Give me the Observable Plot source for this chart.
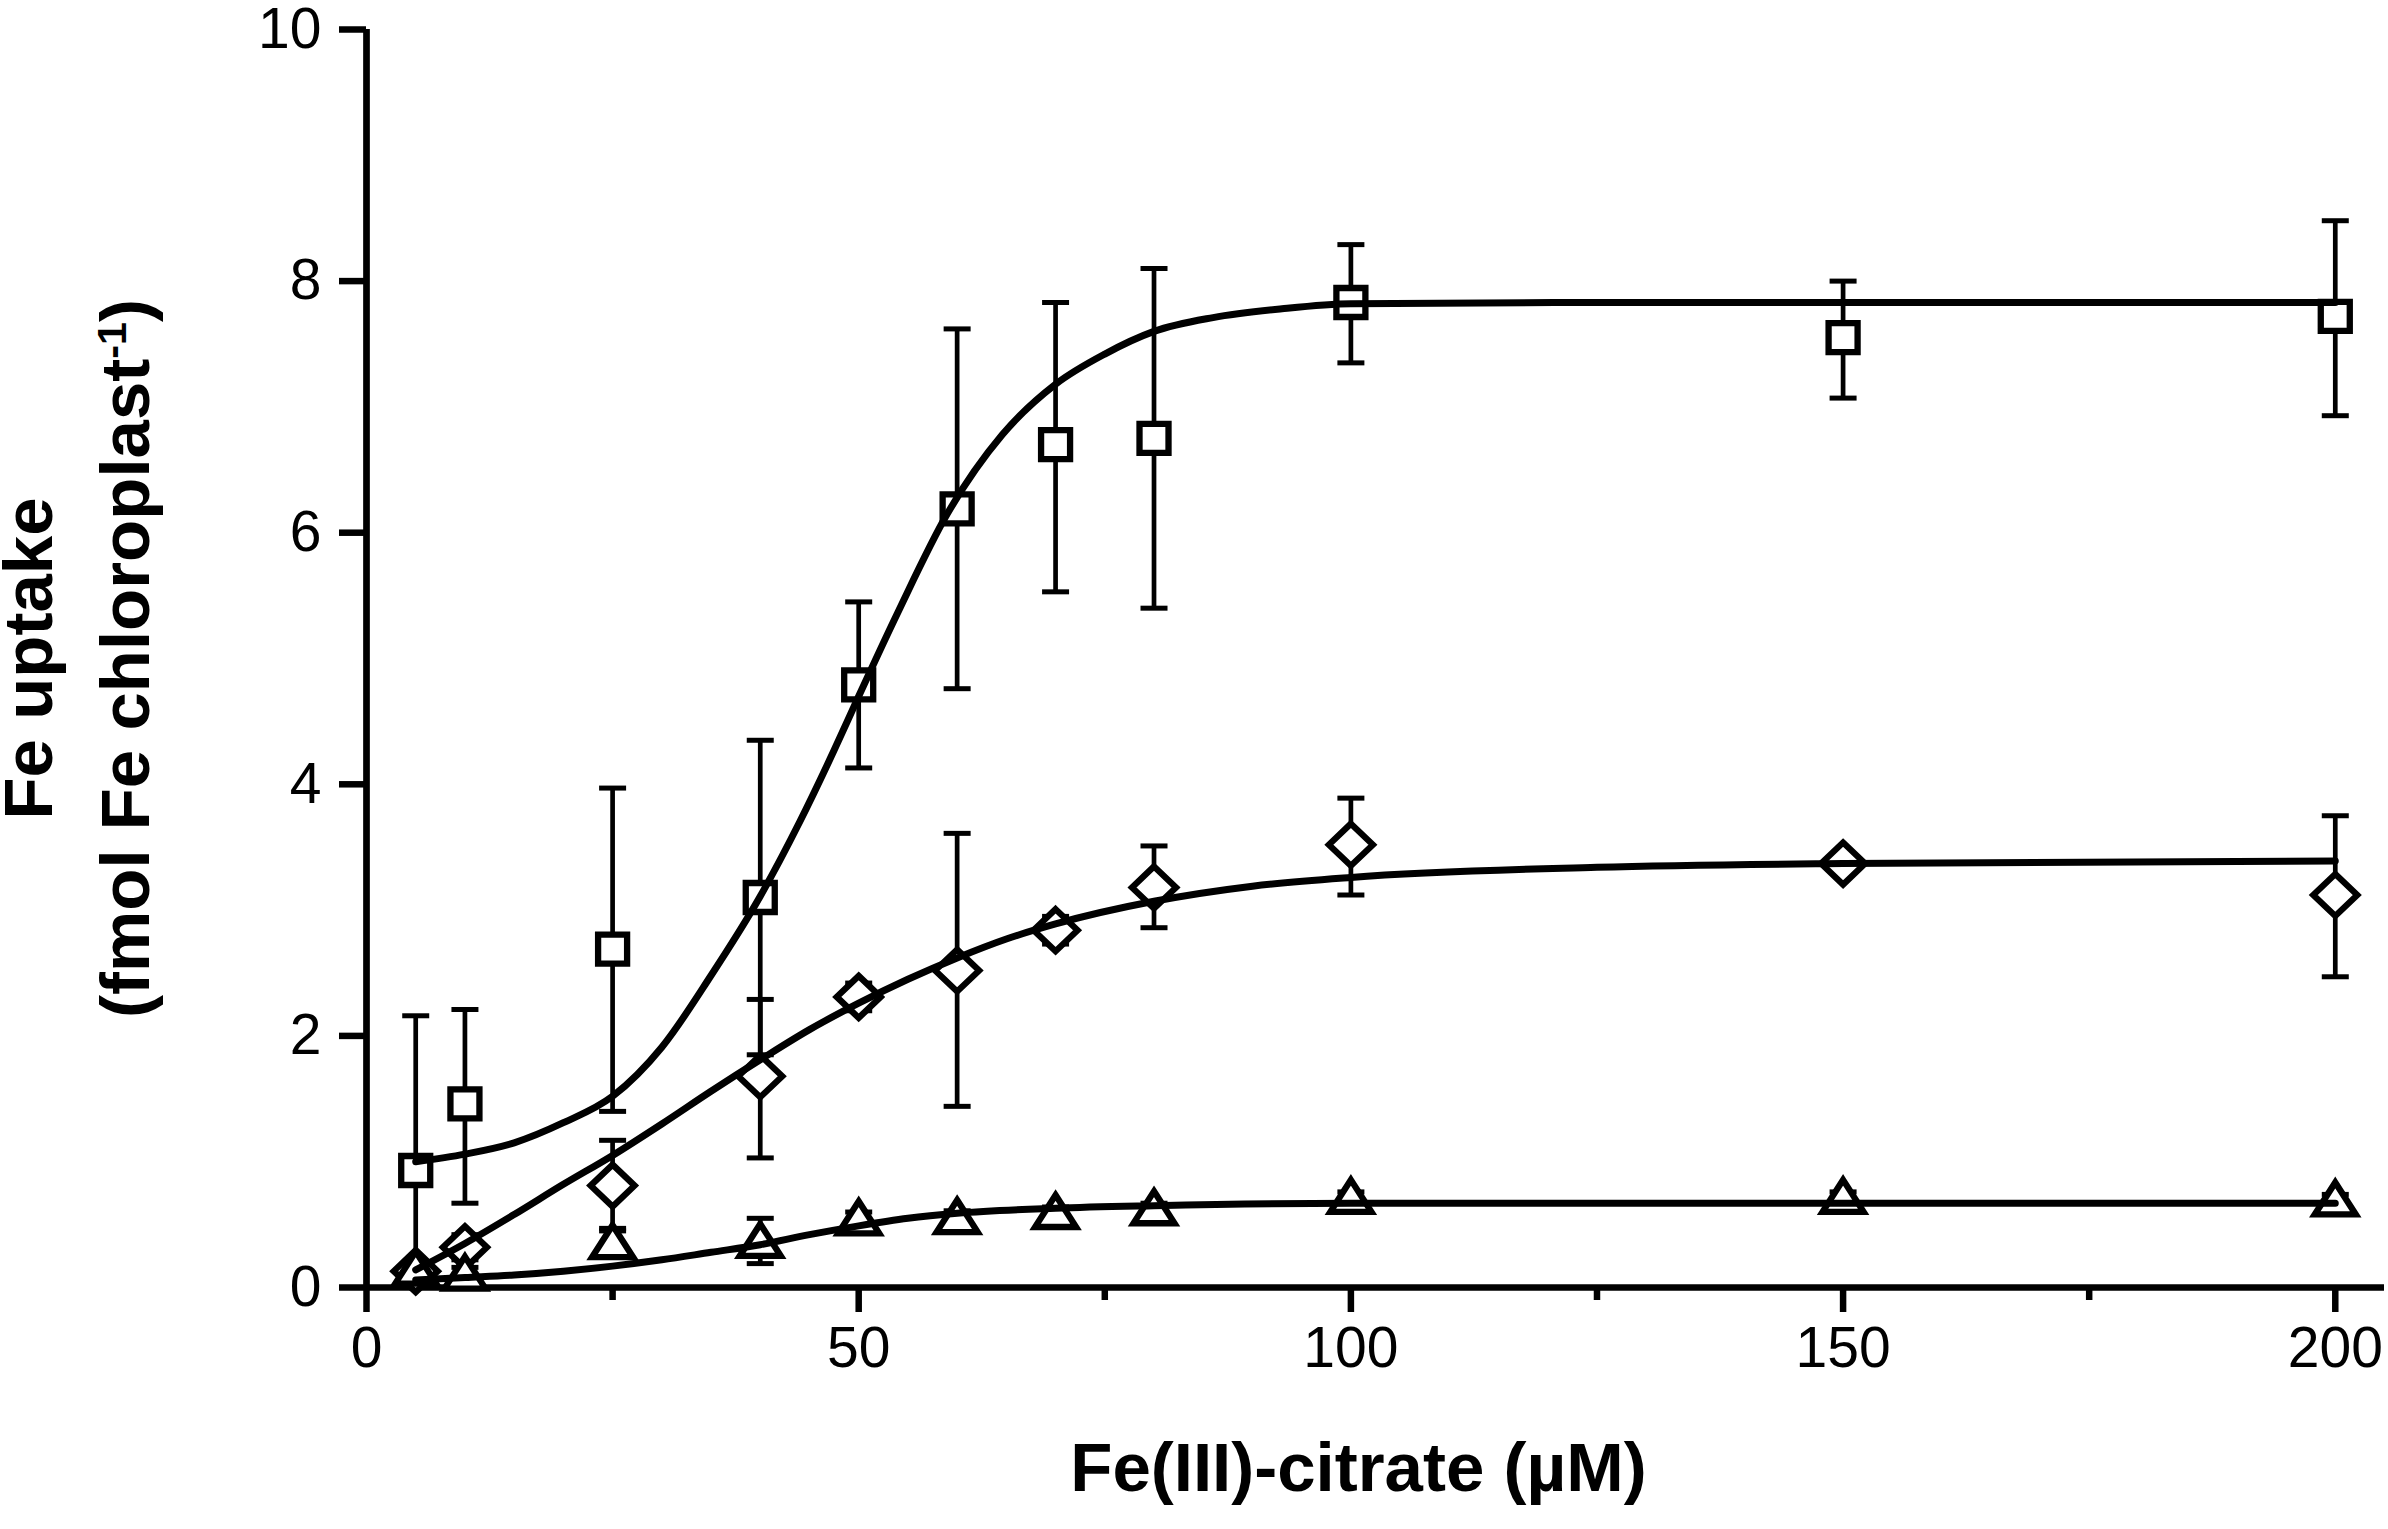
<!DOCTYPE html>
<html>
<head>
<meta charset="utf-8">
<script src="https://cdn.jsdelivr.net/npm/d3@7"></script>
<script src="https://cdn.jsdelivr.net/npm/@observablehq/plot@0.6"></script>
<style>
  html, body { margin: 0; padding: 0; background: #fff; overflow: hidden; }
  svg { display: block; }
</style>
</head>
<body>
<script>
// ---- data ----
const conc = [5, 10, 25, 40, 50, 60, 70, 80, 100, 150, 200];

const squareMean = [0.93, 1.46, 2.69, 3.10, 4.79, 6.19, 6.70, 6.75, 7.83, 7.55, 7.72];
const squareHi   = [2.16, 2.21, 3.97, 4.35, 5.45, 7.62, 7.83, 8.10, 8.29, 8.00, 8.48];
const squareLo   = [0.00, 0.67, 1.40, 1.85, 4.13, 4.76, 5.53, 5.40, 7.35, 7.07, 6.93];

const diamondMean = [0.13, 0.32, 0.81, 1.68, 2.31, 2.52, 2.84, 3.18, 3.52, 3.37, 3.12];
const diamondHi   = [0.20, 0.42, 1.17, 2.29, 2.42, 3.61, 2.95, 3.51, 3.89, 3.43, 3.75];
const diamondLo   = [0.06, 0.22, 0.45, 1.03, 2.20, 1.44, 2.73, 2.86, 3.12, 3.31, 2.47];

const triangleMean = [0.15, 0.11, 0.36, 0.37, 0.55, 0.56, 0.60, 0.63, 0.72, 0.72, 0.70];
const triangleHi   = [0.20, 0.16, 0.47, 0.55, 0.60, 0.61, 0.64, 0.67, 0.76, 0.76, 0.74];
const triangleLo   = [0.10, 0.06, 0.25, 0.19, 0.50, 0.51, 0.56, 0.59, 0.68, 0.68, 0.66];

// fitted curves
const squareFitX = [5, 10, 15, 20, 25, 30, 35, 40, 44, 47.5, 50, 54, 59, 64.6, 70, 75, 80, 86, 93, 100, 125, 150, 175, 200];
const squareFitY = [1.00, 1.06, 1.15, 1.31, 1.52, 1.91, 2.48, 3.11, 3.70, 4.27, 4.70, 5.37, 6.15, 6.78, 7.18, 7.42, 7.60, 7.71, 7.78, 7.82, 7.83, 7.83, 7.83, 7.83];

const diamondFitX = [5, 10, 15, 20, 25, 30, 35, 40, 45, 50, 55, 60, 65, 70, 80, 90, 100, 125, 150, 200];
const diamondFitY = [0.14, 0.35, 0.58, 0.82, 1.05, 1.30, 1.56, 1.81, 2.05, 2.26, 2.45, 2.62, 2.77, 2.89, 3.07, 3.19, 3.26, 3.34, 3.37, 3.39];

const triangleFitX = [5, 10, 15, 20, 25, 30, 35, 40, 45, 50, 55, 60, 70, 80, 100, 150, 200];
const triangleFitY = [0.06, 0.08, 0.10, 0.13, 0.17, 0.22, 0.28, 0.34, 0.42, 0.49, 0.55, 0.59, 0.63, 0.65, 0.67, 0.67, 0.67];

const xTicks = [0, 50, 100, 150, 200];
const xMinorTicks = [25, 75, 125, 175];
const yTicks = [0, 2, 4, 6, 8, 10];

const xTitle = "Fe(III)-citrate (µM)";
const yTitle1 = "Fe uptake";
const yTitle2 = "(fmol Fe chloroplast-1)";

// ---- tables ----
const toRows = (mean, lo, hi) => conc.map((x, i) => ({x, y: mean[i], lo: lo[i], hi: hi[i]}));
const squares = toRows(squareMean, squareLo, squareHi);
const diamonds = toRows(diamondMean, diamondLo, diamondHi);
const triangles = toRows(triangleMean, triangleLo, triangleHi);
const toFit = (xs, ys) => xs.map((x, i) => ({x, y: ys[i]}));
const squareFit = toFit(squareFitX, squareFitY);
const diamondFit = toFit(diamondFitX, diamondFitY);
const triangleFit = toFit(triangleFitX, triangleFitY);

// ---- symbols ----
const capSym = {draw(c) { c.moveTo(-13.5, 0); c.lineTo(13.5, 0); }};
const squareSym = {draw(c) { c.moveTo(-14.5, -14.5); c.lineTo(14.5, -14.5); c.lineTo(14.5, 14.5); c.lineTo(-14.5, 14.5); c.closePath(); }};
const diamondSym = {draw(c) { c.moveTo(0, -21); c.lineTo(22, 0); c.lineTo(0, 21); c.lineTo(-22, 0); c.closePath(); }};
const triangleSym = {draw(c) { c.moveTo(0, -17); c.lineTo(20.5, 15); c.lineTo(-20.5, 15); c.closePath(); }};

const errMarks = (rows) => [
  Plot.ruleX(rows, {x: "x", y1: "lo", y2: "hi", stroke: "black", strokeWidth: 4.7}),
  Plot.dot(rows, {x: "x", y: "hi", symbol: capSym, r: 10, fill: "none", stroke: "black", strokeWidth: 5}),
  Plot.dot(rows, {x: "x", y: "lo", symbol: capSym, r: 10, fill: "none", stroke: "black", strokeWidth: 5})
];
const markerMarks = (rows, sym) =>
  Plot.dot(rows, {x: "x", y: "y", symbol: sym, r: 10, fill: "white", stroke: "black", strokeWidth: 6.3, strokeLinejoin: "miter"});
const fitMark = (rows) =>
  Plot.line(rows, {x: "x", y: "y", curve: "monotone-x", stroke: "black", strokeWidth: 7});

const svg = Plot.plot({
  width: 2388,
  height: 1529,
  marginLeft: 366,
  marginRight: 4,
  marginTop: 29,
  marginBottom: 242,
  style: {fontFamily: "'Liberation Sans', Arial, sans-serif", fontSize: "57px", background: "white", color: "black"},
  x: {domain: [0, 205]},
  y: {domain: [0, 10]},
  marks: [
    Plot.axisY({ticks: yTicks, tickSize: 27, tickPadding: 18, strokeWidth: 6.5, label: null, fontSize: 57}),
    Plot.axisX({ticks: xTicks, tickSize: 25, tickPadding: 14, strokeWidth: 6.5, label: null, fontSize: 57}),
    Plot.axisX({ticks: xMinorTicks, tickSize: 13, strokeWidth: 6.5, label: null, tickFormat: () => ""}),
    Plot.ruleY([0], {stroke: "black", strokeWidth: 6.7}),
    Plot.ruleX([0], {stroke: "black", strokeWidth: 6.7}),
    ...errMarks(squares),
    ...errMarks(diamonds),
    ...errMarks(triangles),
    markerMarks(squares, squareSym),
    markerMarks(diamonds, diamondSym),
    markerMarks(triangles, triangleSym),
    fitMark(squareFit),
    fitMark(diamondFit),
    fitMark(triangleFit),
    Plot.text([xTitle], {frameAnchor: "bottom", textAnchor: "middle", dx: -17, dy: 203, fontSize: 69, fontWeight: "bold", fill: "black"}),
    Plot.text([yTitle1], {frameAnchor: "left", textAnchor: "middle", rotate: -90, dx: -337, fontSize: 69, fontWeight: "bold", fill: "black"}),
    Plot.text([yTitle2], {frameAnchor: "left", textAnchor: "middle", rotate: -90, dx: -240, fontSize: 69, fontWeight: "bold", fill: "black"})
  ]
});

// superscript "-1" in the y title
d3.select(svg).selectAll("text").filter(function () { return this.textContent === yTitle2; }).each(function () {
  const t = d3.select(this);
  t.text(null);
  t.append("tspan").text("(fmol Fe chloroplast");
  t.append("tspan").attr("baseline-shift", "super").attr("font-size", "60%").text("-1");
  t.append("tspan").text(")");
});

document.body.append(svg);
</script>
</body>
</html>
